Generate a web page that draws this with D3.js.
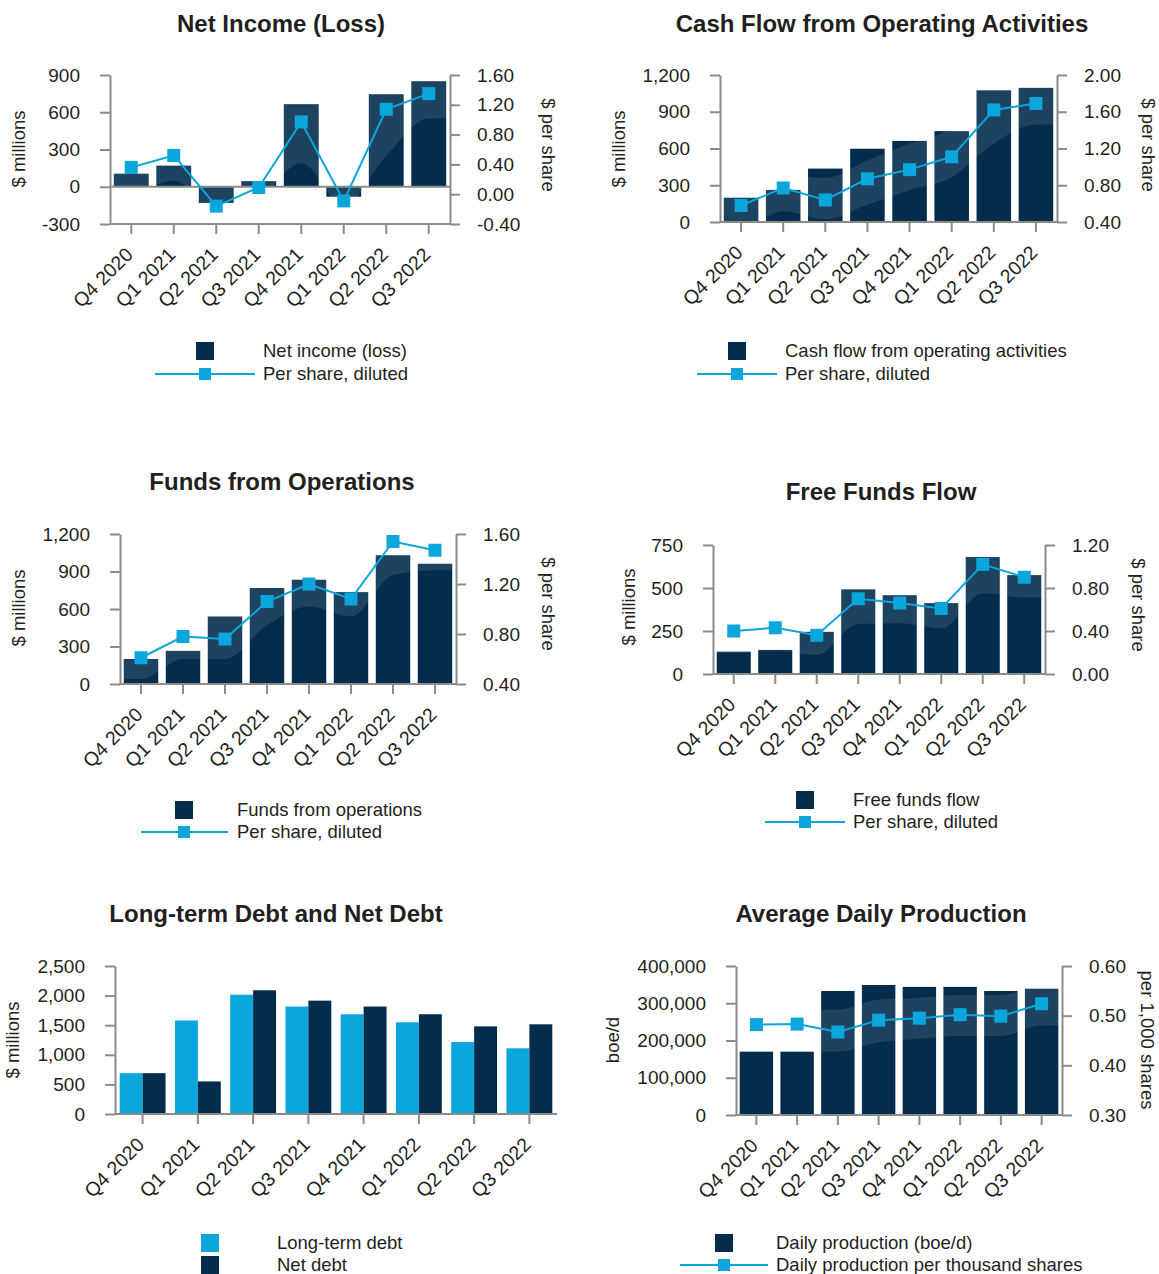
<!DOCTYPE html>
<html><head><meta charset="utf-8">
<script src="https://cdn.jsdelivr.net/npm/d3@7"></script>
<style>
body{margin:0;background:#fff;}
svg text{font-family:"Liberation Sans",Arial,sans-serif;fill:#231f20;}
</style></head><body>
<svg id="c" width="1159" height="1274"></svg>
<script>
// ---------- DATA ----------
const quarters = ["Q4 2020","Q1 2021","Q2 2021","Q3 2021","Q4 2021","Q1 2022","Q2 2022","Q3 2022"];

const netIncome = [105, 170, -130, 45, 665, -80, 745, 850];
const netIncomePerShare = [0.36, 0.52, -0.16, 0.09, 0.97, -0.09, 1.14, 1.35];
const netIncomeTicksLeft = [-300, 0, 300, 600, 900];
const netIncomeTicksRight = [-0.4, 0, 0.4, 0.8, 1.2, 1.6];

const cashFlowOps = [198, 262, 436, 598, 662, 742, 1075, 1095];
const cashFlowPerShare = [0.58, 0.77, 0.64, 0.87, 0.97, 1.11, 1.62, 1.69];
const cashFlowTicksLeft = [0, 300, 600, 900, 1200];
const cashFlowTicksRight = [0.4, 0.8, 1.2, 1.6, 2.0];

const fundsFromOps = [200, 265, 540, 768, 834, 735, 1030, 962];
const fundsFromOpsPerShare = [0.61, 0.78, 0.76, 1.06, 1.20, 1.08, 1.54, 1.47];
const fundsTicksLeft = [0, 300, 600, 900, 1200];
const fundsTicksRight = [0.4, 0.8, 1.2, 1.6];

const freeFundsFlow = [130, 140, 245, 492, 458, 412, 680, 575];
const freeFundsFlowPerShare = [0.40, 0.43, 0.36, 0.70, 0.66, 0.61, 1.02, 0.90];
const freeTicksLeft = [0, 250, 500, 750];
const freeTicksRight = [0, 0.4, 0.8, 1.2];

const longTermDebt = [690, 1580, 2015, 1815, 1685, 1550, 1215, 1110];
const netDebt = [690, 550, 2090, 1915, 1815, 1685, 1480, 1515];
const debtTicks = [0, 500, 1000, 1500, 2000, 2500];

const dailyProduction = [170000, 170000, 333000, 349000, 344000, 344000, 333000, 339000];
const productionPerThousandShares = [0.482, 0.483, 0.467, 0.491, 0.495, 0.502, 0.499, 0.524];
const productionTicksLeft = [0, 100000, 200000, 300000, 400000];
const productionTicksRight = [0.3, 0.4, 0.5, 0.6];

// decorative highlight band on the bars (value units)
const netIncomeBandLow  = [-50, 50, -200, -100, 190, -150, 250, 550];
const netIncomeBandHigh = [3000, 3000, 3000, 3000, 3000, 3000, 3000, 3000];
const cashFlowBandLow  = [-50, 87, 20, 140, 260, 365, 640, 795];
const cashFlowBandHigh = [600, 420, 360, 505, 640, 780, 1300, 1300];
const fundsBandLow  = [40, 200, 200, 470, 620, 540, 870, 910];
const fundsBandHigh = [3000, 3000, 3000, 3000, 3000, 3000, 3000, 3000];
const freeBandLow  = [122, 135, 110, 290, 295, 265, 470, 445];
const freeBandHigh = [3000, 3000, 3000, 3000, 3000, 3000, 3000, 3000];
const productionBandLow  = [null, null, 170000, 195000, 205000, 212000, 212000, 240000];
const productionBandHigh = [null, null, 283000, 310000, 315000, 322000, 322000, 345000];

// ---------- DRAWING ----------
const svg = d3.select("#c");
const DARK = "#032c4d", BLUE = "#0aa6dc", AXIS = "#8b8b8b";
const FS_TICK = 19, FS_X = 19.5, FS_TITLE = 24, FS_TXT = 18.5;
const numFmt = d => (d < 0 ? "-" : "") + d3.format(",")(Math.abs(d));
const decFmt = p => d => (d < 0 ? "-" : "") + d3.format("." + p + "f")(Math.abs(d));
let clipCount = 0;

function styleAxis(sel){
  sel.select(".domain").attr("stroke", AXIS).attr("stroke-width", 2);
  sel.selectAll(".tick line").attr("stroke", AXIS).attr("stroke-width", 2);
  sel.selectAll(".tick text").attr("font-size", FS_TICK).attr("fill", "#231f20");
}

function frame(g, cfg, x, yL){
  g.append("text").attr("x", cfg.titleX).attr("y", cfg.titleY).attr("text-anchor", "middle")
    .attr("font-size", FS_TITLE).attr("font-weight", "bold").text(cfg.title);
  const la = g.append("g").attr("transform", `translate(${cfg.left},0)`)
    .call(d3.axisLeft(yL).tickValues(cfg.ticksL).tickSize(10).tickSizeOuter(0).tickPadding(20).tickFormat(numFmt));
  styleAxis(la);
  const yb = yL.range()[0];
  g.append("line").attr("x1", cfg.left).attr("x2", cfg.right).attr("y1", yb).attr("y2", yb)
    .attr("stroke", AXIS).attr("stroke-width", 2);
  const xt = g.append("g").attr("transform", `translate(0,${yb})`)
    .call(d3.axisBottom(x).tickSize(10).tickSizeOuter(0).tickPadding(0).tickFormat(""));
  xt.select(".domain").remove();
  xt.selectAll(".tick line").attr("stroke", AXIS).attr("stroke-width", 2);
  g.selectAll(null).data(quarters).join("text")
    .attr("transform", d => `translate(${x(d) + x.bandwidth() / 2 - 2},${yb + 27}) rotate(-45)`)
    .attr("text-anchor", "end").attr("dy", "0.35em").attr("font-size", FS_X).text(d => d);
  g.append("text").attr("transform", `translate(${cfg.yTitleX},${cfg.yTitleY}) rotate(-90)`)
    .attr("text-anchor", "middle").attr("dominant-baseline", "central").attr("font-size", FS_TXT).text(cfg.yTitle);
}

function comboPanel(cfg){
  const g = svg.append("g");
  const x = d3.scaleBand().domain(quarters).range([cfg.left, cfg.right]).paddingInner(0.18).paddingOuter(0.09);
  const yL = d3.scaleLinear().domain(cfg.domL).range([cfg.bottom, cfg.top]);
  const yR = d3.scaleLinear().domain(cfg.domR).range([cfg.bottom, cfg.top]);
  const id = "clip" + (clipCount++);
  const rectAttrs = sel => sel
    .attr("x", (d, i) => x(quarters[i])).attr("width", x.bandwidth())
    .attr("y", d => yL(Math.max(0, d))).attr("height", d => Math.abs(yL(d) - yL(0)));
  g.append("g").selectAll("rect").data(cfg.bars).join("rect").call(rectAttrs).attr("fill", DARK);
  g.append("clipPath").attr("id", id).selectAll("rect").data(cfg.bars).join("rect").call(rectAttrs);
  const pts = [];
  cfg.bandLow.forEach((lo, i) => {
    if (lo == null) return;
    pts.push({x: x(quarters[i]) + x.bandwidth() / 2, lo: lo, hi: cfg.bandHigh[i]});
  });
  const half = x.step() / 2;
  pts.unshift({x: pts[0].x - half, lo: pts[0].lo, hi: pts[0].hi});
  const lp = pts[pts.length - 1];
  pts.push({x: lp.x + half, lo: lp.lo, hi: lp.hi});
  const area = d3.area().x(d => d.x).y0(d => yL(d.lo)).y1(d => yL(d.hi)).curve(d3.curveMonotoneX);
  g.append("path").attr("d", area(pts)).attr("fill", "#ffffff").attr("fill-opacity", 0.11)
    .attr("clip-path", `url(#${id})`);

  frame(g, cfg, x, yL);
  if (cfg.domL[0] < 0) {
    g.append("line").attr("x1", cfg.left).attr("x2", cfg.right).attr("y1", yL(0)).attr("y2", yL(0))
      .attr("stroke", AXIS).attr("stroke-width", 2);
  }
  const ra = g.append("g").attr("transform", `translate(${cfg.right},0)`)
    .call(d3.axisRight(yR).tickValues(cfg.ticksR).tickSize(10).tickSizeOuter(0).tickPadding(17).tickFormat(decFmt(2)));
  styleAxis(ra);
  g.append("text").attr("transform", `translate(${cfg.y2TitleX},${cfg.y2TitleY}) rotate(90)`)
    .attr("text-anchor", "middle").attr("dominant-baseline", "central").attr("font-size", FS_TXT).text(cfg.y2Title);
  const cx = i => x(quarters[i]) + x.bandwidth() / 2;
  const line = d3.line().x((d, i) => cx(i)).y(d => yR(d));
  g.append("path").attr("d", line(cfg.line)).attr("fill", "none").attr("stroke", BLUE).attr("stroke-width", 2);
  g.selectAll(null).data(cfg.line).join("rect")
    .attr("x", (d, i) => cx(i) - 6.5).attr("y", d => yR(d) - 6.5).attr("width", 13).attr("height", 13).attr("fill", BLUE);
  const L = cfg.legend;
  g.append("rect").attr("x", L.cx - 9).attr("y", L.y1 - 9).attr("width", 18).attr("height", 18).attr("fill", DARK);
  g.append("line").attr("x1", L.lx1).attr("x2", L.lx2).attr("y1", L.y2).attr("y2", L.y2).attr("stroke", BLUE).attr("stroke-width", 2);
  g.append("rect").attr("x", L.cx - 6).attr("y", L.y2 - 6).attr("width", 12).attr("height", 12).attr("fill", BLUE);
  g.append("text").attr("x", L.tx).attr("y", L.y1).attr("dy", "0.35em").attr("font-size", FS_TXT).text(cfg.barName);
  g.append("text").attr("x", L.tx).attr("y", L.y2).attr("dy", "0.35em").attr("font-size", FS_TXT).text(cfg.lineName);
}

comboPanel({
  title: "Net Income (Loss)", titleX: 281, titleY: 32,
  left: 110, right: 450, top: 75, bottom: 224,
  domL: [-300, 900], domR: [-0.4, 1.6], ticksL: netIncomeTicksLeft, ticksR: netIncomeTicksRight,
  bars: netIncome, line: netIncomePerShare, bandLow: netIncomeBandLow, bandHigh: netIncomeBandHigh,
  yTitle: "$ millions", yTitleX: 18, yTitleY: 149, y2Title: "$ per share", y2TitleX: 548, y2TitleY: 145,
  barName: "Net income (loss)", lineName: "Per share, diluted",
  legend: {cx: 205, y1: 351, y2: 374, lx1: 155, lx2: 255, tx: 263}
});
comboPanel({
  title: "Cash Flow from Operating Activities", titleX: 882, titleY: 32,
  left: 720, right: 1057, top: 75, bottom: 222,
  domL: [0, 1200], domR: [0.4, 2.0], ticksL: cashFlowTicksLeft, ticksR: cashFlowTicksRight,
  bars: cashFlowOps, line: cashFlowPerShare, bandLow: cashFlowBandLow, bandHigh: cashFlowBandHigh,
  yTitle: "$ millions", yTitleX: 618, yTitleY: 149, y2Title: "$ per share", y2TitleX: 1148, y2TitleY: 145,
  barName: "Cash flow from operating activities", lineName: "Per share, diluted",
  legend: {cx: 737, y1: 351, y2: 374, lx1: 697, lx2: 777, tx: 785}
});
comboPanel({
  title: "Funds from Operations", titleX: 282, titleY: 490,
  left: 120, right: 456, top: 534, bottom: 684,
  domL: [0, 1200], domR: [0.4, 1.6], ticksL: fundsTicksLeft, ticksR: fundsTicksRight,
  bars: fundsFromOps, line: fundsFromOpsPerShare, bandLow: fundsBandLow, bandHigh: fundsBandHigh,
  yTitle: "$ millions", yTitleX: 18, yTitleY: 608, y2Title: "$ per share", y2TitleX: 548, y2TitleY: 604,
  barName: "Funds from operations", lineName: "Per share, diluted",
  legend: {cx: 184, y1: 810, y2: 832, lx1: 141, lx2: 228, tx: 237}
});
comboPanel({
  title: "Free Funds Flow", titleX: 881, titleY: 500,
  left: 713, right: 1045, top: 545, bottom: 674,
  domL: [0, 750], domR: [0, 1.2], ticksL: freeTicksLeft, ticksR: freeTicksRight,
  bars: freeFundsFlow, line: freeFundsFlowPerShare, bandLow: freeBandLow, bandHigh: freeBandHigh,
  yTitle: "$ millions", yTitleX: 628, yTitleY: 607, y2Title: "$ per share", y2TitleX: 1138, y2TitleY: 605,
  barName: "Free funds flow", lineName: "Per share, diluted",
  legend: {cx: 805, y1: 800, y2: 822, lx1: 765, lx2: 845, tx: 853}
});
comboPanel({
  title: "Average Daily Production", titleX: 881, titleY: 922,
  left: 736, right: 1062, top: 966, bottom: 1115,
  domL: [0, 400000], domR: [0.3, 0.6], ticksL: productionTicksLeft, ticksR: productionTicksRight,
  bars: dailyProduction, line: productionPerThousandShares, bandLow: productionBandLow, bandHigh: productionBandHigh,
  yTitle: "boe/d", yTitleX: 612, yTitleY: 1040, y2Title: "per 1,000 shares", y2TitleX: 1147, y2TitleY: 1040,
  barName: "Daily production (boe/d)", lineName: "Daily production per thousand shares",
  legend: {cx: 724, y1: 1243, y2: 1265, lx1: 680, lx2: 768, tx: 776}
});

// grouped debt panel
(function(){
  const cfg = {
    title: "Long-term Debt and Net Debt", titleX: 276, titleY: 922,
    left: 115, right: 557, top: 966, bottom: 1114,
    ticksL: debtTicks, yTitle: "$ millions", yTitleX: 12, yTitleY: 1040
  };
  const g = svg.append("g");
  const x = d3.scaleBand().domain(quarters).range([cfg.left, cfg.right]).paddingInner(0.17).paddingOuter(0.085);
  const yL = d3.scaleLinear().domain([0, 2500]).range([cfg.bottom, cfg.top]);
  const series = [{name: "Long-term debt", vals: longTermDebt, color: BLUE}, {name: "Net debt", vals: netDebt, color: DARK}];
  const xs = d3.scaleBand().domain(series.map(s => s.name)).range([0, x.bandwidth()]);
  series.forEach(s => {
    g.append("g").selectAll("rect").data(s.vals).join("rect")
      .attr("x", (d, i) => x(quarters[i]) + xs(s.name)).attr("width", xs.bandwidth())
      .attr("y", d => yL(d)).attr("height", d => yL(0) - yL(d)).attr("fill", s.color);
  });
  frame(g, cfg, x, yL);
  series.forEach((s, k) => {
    const yy = 1243 + k * 22;
    g.append("rect").attr("x", 201).attr("y", yy - 9).attr("width", 18).attr("height", 18).attr("fill", s.color);
    g.append("text").attr("x", 277).attr("y", yy).attr("dy", "0.35em").attr("font-size", FS_TXT).text(s.name);
  });
})();
</script>
</body></html>
